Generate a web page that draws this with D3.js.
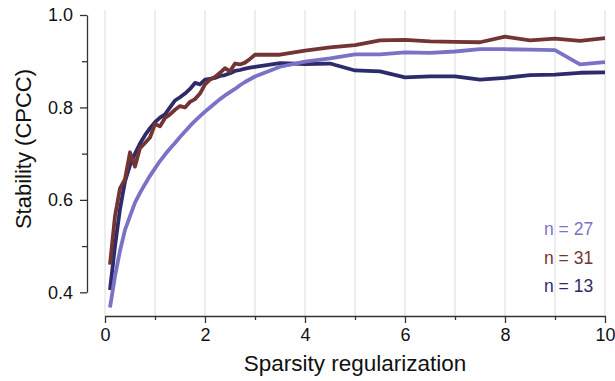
<!DOCTYPE html>
<html>
<head>
<meta charset="utf-8">
<script src="https://cdn.jsdelivr.net/npm/d3@7"></script>
<style>
  body { margin: 0; background: #fff; }
  svg { display: block; }
  text { font-family: "Liberation Sans", Arial, Helvetica, sans-serif; }
</style>
</head>
<body>
<svg id="chart" width="615" height="381"></svg>
<script>
// ---- data ----
const xValues = [0.1,0.2,0.3,0.4,0.5,0.6,0.7,0.8,0.9,1.0,
                 1.1,1.2,1.3,1.4,1.5,1.6,1.7,1.8,1.9,2.0,
                 2.1,2.2,2.3,2.4,2.5,2.6,2.7,2.8,2.9,3.0,
                 3.5,4.0,4.5,5.0,5.5,6.0,6.5,7.0,7.5,8.0,8.5,9.0,9.5,10.0];

const seriesN13 = [0.405,0.50,0.58,0.64,0.675,0.70,0.722,0.740,0.755,0.768,
                   0.778,0.785,0.800,0.815,0.822,0.830,0.840,0.853,0.850,0.860,
                   0.862,0.864,0.868,0.870,0.874,0.879,0.881,0.884,0.886,0.888,
                   0.896,0.894,0.895,0.880,0.878,0.865,0.867,0.867,0.860,0.864,0.870,0.871,0.875,0.876];

const seriesN27 = [0.367,0.435,0.49,0.535,0.565,0.594,0.615,0.634,0.652,0.668,
                   0.684,0.698,0.711,0.723,0.736,0.748,0.760,0.771,0.781,0.791,
                   0.800,0.809,0.818,0.826,0.833,0.840,0.848,0.855,0.861,0.867,
                   0.888,0.899,0.906,0.915,0.915,0.919,0.918,0.921,0.926,0.926,0.925,0.924,0.893,0.898];

const seriesN31 = [0.46,0.565,0.625,0.645,0.703,0.672,0.712,0.723,0.735,0.764,
                   0.759,0.777,0.785,0.795,0.803,0.800,0.812,0.818,0.830,0.850,
                   0.860,0.866,0.875,0.885,0.878,0.895,0.893,0.897,0.905,0.914,
                   0.914,0.923,0.930,0.935,0.945,0.946,0.943,0.942,0.941,0.953,0.945,0.949,0.944,0.950];

const seriesNames = ["n = 27", "n = 31", "n = 13"];
const seriesColors = ["#7a72c6", "#733434", "#2e2b6b"];

const xMajorTicks = [0,2,4,6,8,10];
const xMinorTicks = [1,3,5,7,9];
const xGridTicks = [0,1,2,3,4,5,6,7,8,9,10];
const yMajorTicks = [0.4,0.6,0.8,1.0];
const yTickLabels = ["0.4","0.6","0.8","1.0"];
const yMinorTicks = [0.5,0.7,0.9];

const xTitle = "Sparsity regularization";
const yTitle = "Stability (CPCC)";

// ---- layout ----
const svg = d3.select("#chart");
const x = d3.scaleLinear().domain([0, 10]).range([105, 605]);
const y = d3.scaleLinear().domain([0.4, 1.0]).range([292.3, 15]);
const xAxisY = 316;
const yAxisX = 87;
const axisColor = "#333";

// grid
svg.append("g").selectAll("line").data(xGridTicks).join("line")
  .attr("x1", d => x(d)).attr("x2", d => x(d))
  .attr("y1", 10).attr("y2", xAxisY)
  .attr("stroke", "#dcdcdc").attr("stroke-width", 1);

// x axis
const gx = svg.append("g").attr("transform", `translate(0,${xAxisY})`)
  .call(d3.axisBottom(x).tickValues(xMajorTicks).tickSize(7).tickSizeOuter(0).tickPadding(5).tickFormat(d3.format("d")));
const gxm = svg.append("g").attr("transform", `translate(0,${xAxisY})`)
  .call(d3.axisBottom(x).tickValues(xMinorTicks).tickSize(4).tickSizeOuter(0).tickFormat(""));
gxm.select(".domain").remove();

// y axis
const gy = svg.append("g").attr("transform", `translate(${yAxisX},0)`)
  .call(d3.axisLeft(y).tickValues(yMajorTicks).tickSize(7).tickSizeOuter(0).tickPadding(7)
    .tickFormat((d, i) => yTickLabels[i]));
const gym = svg.append("g").attr("transform", `translate(${yAxisX},0)`)
  .call(d3.axisLeft(y).tickValues(yMinorTicks).tickSize(5).tickSizeOuter(0).tickFormat(""));
gym.select(".domain").remove();

[gx, gxm, gy, gym].forEach(g => {
  g.selectAll(".domain").attr("stroke", axisColor).attr("stroke-width", 1.3);
  g.selectAll(".tick line").attr("stroke", axisColor).attr("stroke-width", 1.3);
  g.selectAll(".tick text").attr("fill", "#111").style("font-size", "18px")
    .style("font-family", "'Liberation Sans', Arial, sans-serif");
});

// lines
const line = d3.line().x((d, i) => x(xValues[i])).y(d => y(d));
const drawOrder = [[seriesN13, seriesColors[2]], [seriesN27, seriesColors[0]], [seriesN31, seriesColors[1]]];
drawOrder.forEach(([vals, col]) => {
  svg.append("path").datum(vals)
    .attr("d", line)
    .attr("fill", "none")
    .attr("stroke", col)
    .attr("stroke-width", 3.8)
    .attr("stroke-linejoin", "round")
    .attr("stroke-linecap", "butt");
});

// legend
const legendY = [235, 264, 292];
svg.append("g").selectAll("text").data(seriesNames).join("text")
  .attr("x", 544).attr("y", (d, i) => legendY[i])
  .attr("fill", (d, i) => seriesColors[i])
  .style("font-size", "17.5px")
  .text(d => d);

// titles
svg.append("text").attr("x", 355).attr("y", 371)
  .attr("text-anchor", "middle").style("font-size", "22.5px").attr("fill", "#111")
  .text(xTitle);
svg.append("text").attr("transform", "translate(31,149) rotate(-90)")
  .attr("text-anchor", "middle").style("font-size", "22px").attr("fill", "#111")
  .text(yTitle);
</script>
</body>
</html>
